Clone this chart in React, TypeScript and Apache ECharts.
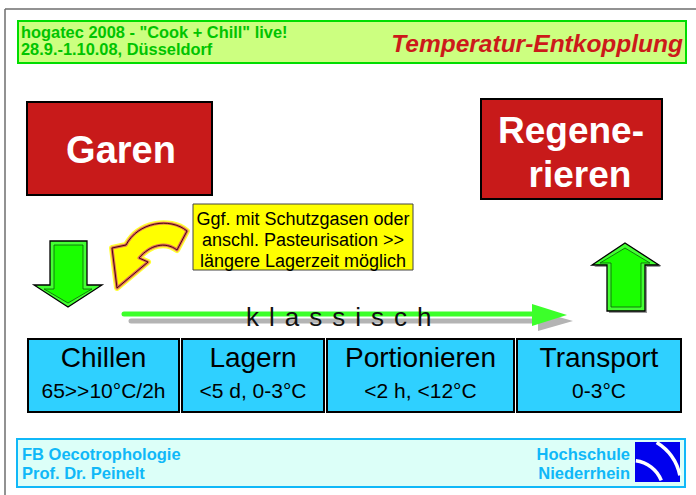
import React, { useEffect, useRef } from "react";
import * as echarts from "echarts";

const headerLines = ['hogatec 2008 - "Cook + Chill" live!', "28.9.-1.10.08, Düsseldorf"];
const slideTitle = "Temperatur-Entkopplung";
const cookLabel = "Garen";
const regenLines = ["Regene-", "rieren"];
const noteLines = ["Ggf. mit Schutzgasen oder", "anschl. Pasteurisation >>", "längere Lagerzeit möglich"];
const flowLetters = ["k", "l", "a", "s", "s", "i", "s", "c", "h"];
const stepTitles = ["Chillen", "Lagern", "Portionieren", "Transport"];
const stepDetails = ["65>>10°C/2h", "<5 d, 0-3°C", "<2 h, <12°C", "0-3°C"];
const footerLeft = ["FB Oecotrophologie", "Prof. Dr. Peinelt"];
const footerRight = ["Hochschule", "Niederrhein"];

const FF = '"Liberation Sans", Arial, Helvetica, sans-serif';

echarts.graphic.registerShape(
  "curvedArrow",
  echarts.graphic.extendPath(
    "M187 231 C170 217 138 222 126 245 L112 248 L117 288 L148 262 L139 258 C150 245 165 241 177 250 Z",
    {}
  )
);

function txt(text: string, x: number, y: number, font: string, fill: string, align = "left", vAlign = "middle", z = 10) {
  return {
    type: "text",
    x,
    y,
    z,
    style: { text, font, fill, align, textAlign: align, verticalAlign: vAlign, textVerticalAlign: vAlign },
  };
}

const stepBoxes = [
  [28, 179],
  [182, 324],
  [327, 514],
  [517, 681],
];

const letterW: Record<string, number> = { k: 0.5, l: 0.222, a: 0.556, s: 0.5, i: 0.222, c: 0.5, h: 0.556 };

export default function App() {
  const ref = useRef<HTMLDivElement>(null);
  useEffect(() => {
    if (!ref.current) return;
    const chart = echarts.init(ref.current, null, { renderer: "svg" });
    const els: any[] = [];
    // frame
    els.push({ type: "line", shape: { x1: 5, y1: 9, x2: 696, y2: 9 }, style: { stroke: "#6e6e6e", lineWidth: 1.5 } });
    els.push({ type: "line", shape: { x1: 5, y1: 9, x2: 5, y2: 495 }, style: { stroke: "#6e6e6e", lineWidth: 1.5 } });
    // header
    els.push({ type: "rect", shape: { x: 18, y: 21, width: 668, height: 42 }, style: { fill: "#ccff80", stroke: "#00dd00", lineWidth: 2 } });
    els.push(txt(headerLines[0], 21, 32, `bold 16.4px ${FF}`, "#00c400"));
    els.push(txt(headerLines[1], 21, 49, `bold 16.4px ${FF}`, "#00c400"));
    els.push(txt(slideTitle, 683, 43, `italic bold 24.5px ${FF}`, "#cc1a1a", "right"));
    // Garen
    els.push({ type: "rect", shape: { x: 27, y: 102, width: 185, height: 93 }, style: { fill: "#c81a1a", stroke: "#000", lineWidth: 2 } });
    els.push(txt(cookLabel, 121, 150, `bold 38px ${FF}`, "#ffffff", "center"));
    // Regenerieren
    els.push({ type: "rect", shape: { x: 481, y: 99, width: 181, height: 100 }, style: { fill: "#c81a1a", stroke: "#000", lineWidth: 2 } });
    els.push(txt(regenLines[0], 571, 130, `bold 37px ${FF}`, "#ffffff", "center"));
    els.push(txt(regenLines[1], 580, 174, `bold 37px ${FF}`, "#ffffff", "center"));
    // note box
    els.push({ type: "rect", shape: { x: 193, y: 204, width: 220, height: 66 }, style: { fill: "#ffff00", stroke: "#444", lineWidth: 1 } });
    noteLines.forEach((l, i) => els.push(txt(l, 303, 219 + i * 21, `18px ${FF}`, "#000", "center")));
    // curved arrow
    els.push({ type: "curvedArrow", x: 0, y: 0, z: 5, style: { fill: "none", stroke: "#ffff33", lineWidth: 6, lineJoin: "round" } });
    els.push({ type: "curvedArrow", x: 0, y: 0, z: 6, style: { fill: "#ffff00", stroke: "#e26a5a", lineWidth: 3, lineJoin: "round" } });
    els.push({ type: "curvedArrow", x: 0, y: 0, z: 7, style: { fill: "none", stroke: "#300", lineWidth: 0.9, lineJoin: "round" } });
    // down arrow
    els.push({
      type: "polygon", z: 5,
      shape: { points: [[50, 241], [87, 241], [87, 285], [102, 285], [68, 307], [34, 285], [50, 285]] },
      style: { fill: "#44ff33", stroke: "#000", lineWidth: 1.3 },
    });
    els.push({
      type: "polygon", z: 6,
      shape: { points: [[54, 245], [83, 245], [83, 289], [92, 289], [68, 303], [44, 289], [54, 289]] },
      style: { fill: "#1aff00", stroke: "#0b5a0b", lineWidth: 0.8 },
    });
    // up arrow
    els.push({
      type: "polygon", z: 4,
      shape: { points: [[627, 245], [661, 267], [647, 267], [647, 313], [609, 313], [609, 267], [594, 267]] },
      style: { fill: "#9a9a9a", stroke: null },
    });
    els.push({
      type: "polygon", z: 5,
      shape: { points: [[625, 243], [659, 265], [645, 265], [645, 311], [607, 311], [607, 265], [592, 265]] },
      style: { fill: "#44ff33", stroke: "#000", lineWidth: 1.3 },
    });
    els.push({
      type: "polygon", z: 6,
      shape: { points: [[625, 248], [650, 263], [641, 263], [641, 307], [611, 307], [611, 263], [600, 263]] },
      style: { fill: "#1aff00", stroke: "#0b5a0b", lineWidth: 0.8 },
    });
    // horizontal arrow (shadow + green)
    els.push({ type: "line", z: 3, shape: { x1: 131, y1: 321, x2: 545, y2: 321 }, style: { stroke: "#b4b4b4", lineWidth: 5, lineCap: "round" } });
    els.push({ type: "polygon", z: 3, shape: { points: [[538, 311], [573, 321], [538, 331]] }, style: { fill: "#b4b4b4" } });
    els.push({ type: "line", z: 4, shape: { x1: 124, y1: 314, x2: 540, y2: 314 }, style: { stroke: "#3cff2a", lineWidth: 5, lineCap: "round" } });
    els.push({ type: "polygon", z: 4, shape: { points: [[532, 304], [567, 315], [532, 326]] }, style: { fill: "#3cff2a" } });
    // klassisch
    const fs = 26;
    const gap = 10;
    let cx = 246;
    flowLetters.forEach((ch) => {
      els.push(txt(ch, cx, 317, `${fs}px ${FF}`, "#111", "left", "middle", 12));
      cx += (letterW[ch] || 0.5) * fs + gap;
    });
    // step boxes
    stepBoxes.forEach(([x0, x1], i) => {
      els.push({ type: "rect", z: 8, shape: { x: x0, y: 339, width: x1 - x0, height: 73 }, style: { fill: "#2fd0ff", stroke: "#000", lineWidth: 2 } });
      els.push(txt(stepTitles[i], (x0 + x1) / 2, 357, `28px ${FF}`, "#000", "center"));
      els.push(txt(stepDetails[i], (x0 + x1) / 2, 390, `21px ${FF}`, "#000", "center"));
    });
    // footer
    els.push({ type: "rect", shape: { x: 17, y: 439, width: 668, height: 48 }, style: { fill: "#dcfff8", stroke: "#10b8f8", lineWidth: 2 } });
    els.push(txt(footerLeft[0], 22, 454, `bold 16.5px ${FF}`, "#10b8f8"));
    els.push(txt(footerLeft[1], 22, 473, `bold 16.5px ${FF}`, "#10b8f8"));
    els.push(txt(footerRight[0], 630, 454, `bold 16.5px ${FF}`, "#10b8f8", "right"));
    els.push(txt(footerRight[1], 630, 473, `bold 16.5px ${FF}`, "#10b8f8", "right"));
    // logo
    els.push({ type: "rect", z: 10, shape: { x: 635, y: 442, width: 45, height: 40 }, style: { fill: "#0000ee" } });
    els.push({
      type: "arc", z: 11,
      shape: { cx: 630, cy: 486, r: 51, startAngle: -1.02, endAngle: -0.21, clockwise: true },
      style: { stroke: "#ffffff", lineWidth: 3.5, fill: null, lineCap: "butt" },
    });
    els.push({
      type: "arc", z: 11,
      shape: { cx: 632, cy: 492, r: 31.5, startAngle: -1.45, endAngle: -0.38, clockwise: true },
      style: { stroke: "#ffffff", lineWidth: 3.5, fill: null, lineCap: "butt" },
    });

    chart.setOption({
      animation: false,
      backgroundColor: "#ffffff",
      graphic: { elements: els },
    });
    return () => chart.dispose();
  }, []);
  return <div ref={ref} style={{ position: "fixed", left: 0, top: 0, width: 696, height: 495 }} />;
}
